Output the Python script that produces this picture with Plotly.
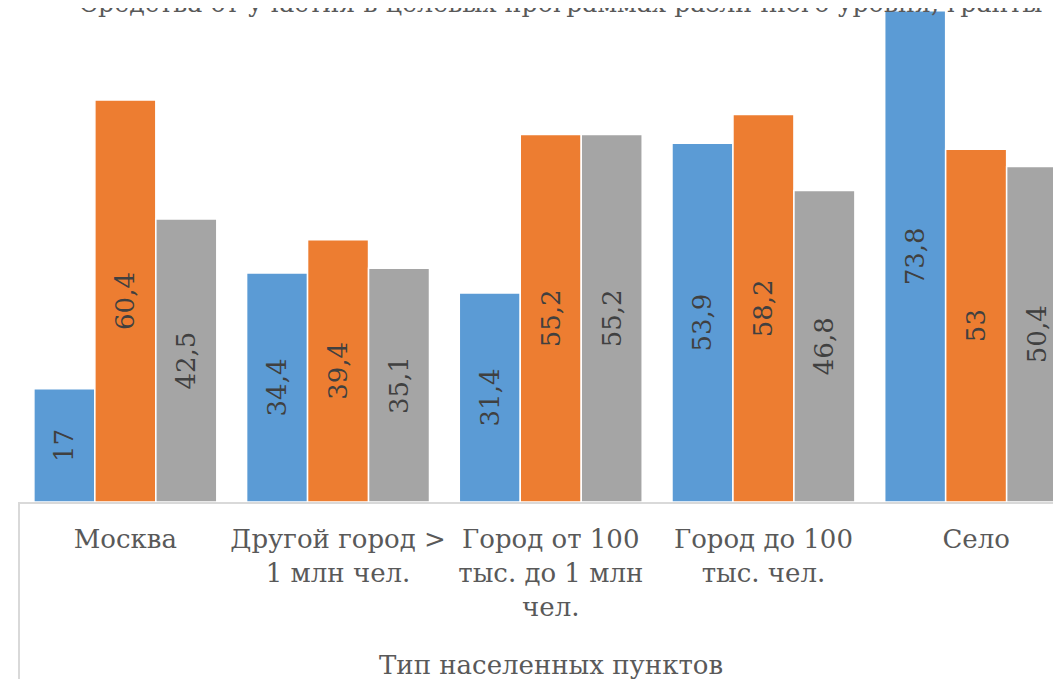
import plotly.graph_objects as go

categories = ["Москва", "Другой город ><br>1 млн чел.", "Город от 100<br>тыс. до 1 млн<br>чел.",
              "Город до 100<br>тыс. чел.", "Село"]
series_names = ["Бюджетные средства",
                "Собственные средства",
                "Средства от участия в целевых программах различного уровня, гранты"]
series1 = [17, 34.4, 31.4, 53.9, 73.8]
series2 = [60.4, 39.4, 55.2, 58.2, 53]
series3 = [42.5, 35.1, 55.2, 46.8, 50.4]
colors = ["#5B9BD5", "#ED7D31", "#A5A5A5"]
axis_title = "Тип населенных пунктов"

FONT = "DejaVu Serif"
FS = 26

W, H = 1061, 679
ML, MT, MB = 11, 0, 185
PLOT_H = H - MT - MB
CAT_W = 212.7

def fmt(v):
    s = ("%g" % v)
    return s.replace(".", ",")

fig = go.Figure()
for name, vals, col in zip(series_names, [series1, series2, series3], colors):
    fig.add_trace(go.Bar(
        x=list(range(len(categories))), y=vals, name=name,
        marker=dict(color=col, line=dict(color="white", width=1.5)),
        text=[fmt(v) for v in vals], textposition="inside",
        insidetextanchor="middle", textangle=-90,
        textfont=dict(family=FONT, size=FS, color="#404040"),
    ))

fig.update_layout(
    width=W, height=H,
    margin=dict(l=ML, r=0, t=MT, b=MB, autoexpand=False),
    barmode="group", bargap=0.14, bargroupgap=0,
    plot_bgcolor="white", paper_bgcolor="white",
    font=dict(family=FONT, color="#595959"),
    showlegend=True,
    legend=dict(orientation="v", yref="container", xref="container",
                x=0.029, xanchor="left", y=0.9738, yanchor="bottom",
                font=dict(family=FONT, size=25.3, color="#595959"),
                traceorder="normal", bgcolor="rgba(0,0,0,0)"),
    xaxis=dict(range=[-0.5, -0.5 + (W - ML) / CAT_W],
               tickmode="array", tickvals=list(range(len(categories))), ticktext=categories,
               tickfont=dict(family=FONT, size=FS, color="#595959"), tickangle=0,
               showline=True, linecolor="#D9D9D9", linewidth=2,
               ticks="outside", ticklen=13, tickcolor="rgba(0,0,0,0)",
               showgrid=False, zeroline=False),
    yaxis=dict(range=[0, PLOT_H / 6.656], visible=False, showgrid=False, zeroline=False),
    shapes=[dict(type="line", xref="paper", yref="paper", x0=0, x1=0, y0=0, y1=-MB / PLOT_H,
                 line=dict(color="#D9D9D9", width=2))],
    annotations=[dict(text=axis_title, xref="x", x=2, yref="paper", y=-163 / PLOT_H,
                      yanchor="middle", showarrow=False,
                      font=dict(family=FONT, size=FS, color="#595959"))],
)

fig.write_html("out.html")
